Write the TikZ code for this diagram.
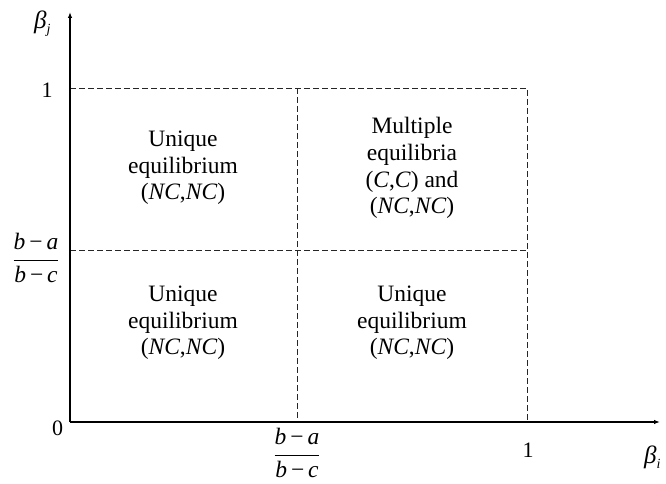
\documentclass[tikz,border=0pt]{standalone}
\usepackage{fontspec}
\setmainfont{Liberation Serif}
\usetikzlibrary{arrows.meta}
\newcommand{\ratio}{\ensuremath{\displaystyle\frac{\hbox{\itshape b\,}\hbox{−}\hbox{\,\itshape a}}{\hbox{\itshape b\,}\hbox{−}\hbox{\,\itshape c}}}}
\newcommand{\betasub}[1]{\textit{β}\raisebox{-0.45ex}{\fontsize{14}{14}\selectfont\textit{#1}}}
\begin{document}
\begin{tikzpicture}[x=1pt,y=-1pt,
  axis/.style={line width=1.2pt,-{Latex[length=6pt,width=4.5pt]}},
  grid/.style={line width=0.75pt,dash pattern=on 6pt off 3pt,black!85},
  region/.style={align=center,font=\fontsize{23.5}{26.7}\selectfont},
  tick/.style={font=\fontsize{22}{24}\selectfont},
  greek/.style={font=\fontsize{25}{28}\selectfont,inner sep=0pt},
  frac/.style={font=\fontsize{23.5}{27}\selectfont,inner sep=0pt}]
\useasboundingbox (0,0) rectangle (666,484);
% origin and the reference points on each axis
\coordinate (O) at (70,422);
\coordinate (yend) at (70,12);
\coordinate (xend) at (660,422);
\coordinate (y1) at (70,88);
\coordinate (ym) at (70,250);
\coordinate (x1) at (527,422);
\coordinate (xm) at (297,422);
\coordinate (c11) at (527,88);
\coordinate (cm1) at (297,88);
\coordinate (c1m) at (527,250);
% dashed partition of the unit square
\draw[grid] (y1) -- (c11) -- (x1);
\draw[grid] (ym) -- (c1m);
\draw[grid] (cm1) -- (xm);
% axes
\draw[axis] (O) -- (yend);
\draw[axis] (O) -- (xend);
% axis labels
\node[greek,anchor=west] (bj) at (34,24) {\betasub{j}};
\node[greek,anchor=west] (bi) at (644,457) {\betasub{i}};
\node[tick] (one y) at (47,90) {1};
\node[tick] (zero) at (57.5,428) {0};
\node[tick] (one x) at (528,450) {1};
\node[frac] (ry) at (36,258) {\ratio};
\node[frac] (rx) at (297,453) {\ratio};
% region descriptions
\node[region] (tl) at (183,168) {Unique\\equilibrium\\(\textit{NC},\textit{NC})};
\node[region] (tr) at (412,168) {Multiple\\equilibria\\(\textit{C},\textit{C}) and\\(\textit{NC},\textit{NC})};
\node[region] (bl) at (183,323) {Unique\\equilibrium\\(\textit{NC},\textit{NC})};
\node[region] (br) at (412,323) {Unique\\equilibrium\\(\textit{NC},\textit{NC})};
\end{tikzpicture}
\end{document}
